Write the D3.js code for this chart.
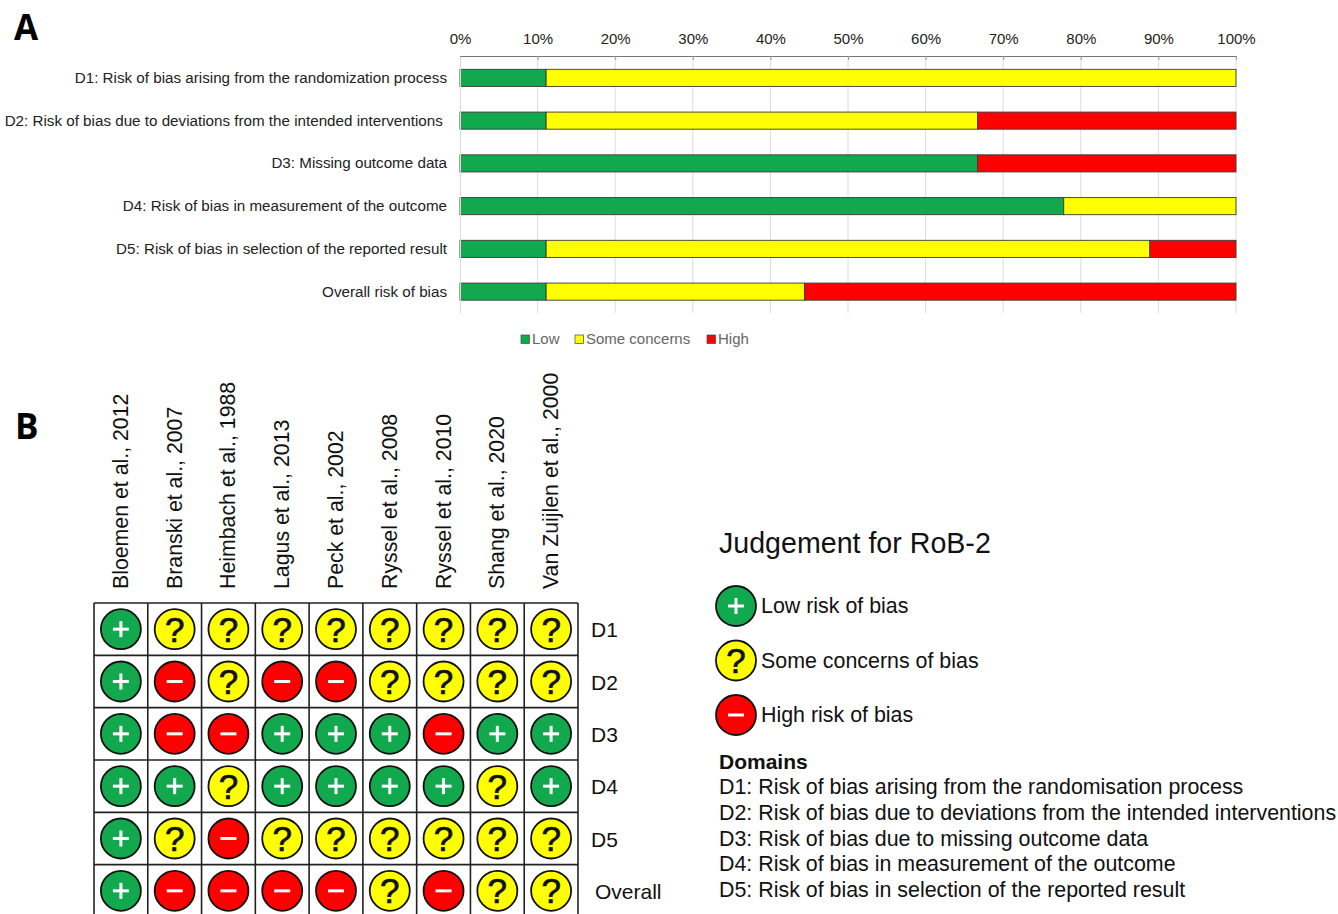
<!DOCTYPE html>
<html>
<head>
<meta charset="utf-8">
<script src="https://cdn.jsdelivr.net/npm/d3@7"></script>
<style>
  html, body { margin: 0; padding: 0; background: #fff; }
  svg { display: block; font-family: "Liberation Sans", Arial, sans-serif; }
</style>
</head>
<body>
<div id="chart"></div>
<script>
// summary bars (A), percent of studies
var domains = [
    "D1: Risk of bias arising from the randomization process",
    "D2: Risk of bias due to deviations from the intended interventions\u00a0",
    "D3: Missing outcome data",
    "D4: Risk of bias in measurement of the outcome",
    "D5: Risk of bias in selection of the reported result",
    "Overall risk of bias"
];
var lowValues = [11.1, 11.1, 66.7, 77.8, 11.1, 11.1];
var someValues = [88.9, 55.6, 0, 22.2, 77.8, 33.3];
var highValues = [0, 33.3, 33.3, 0, 11.1, 55.6];
var levels = ["Low", "Some concerns", "High"];
var percentTicks = [0, 10, 20, 30, 40, 50, 60, 70, 80, 90, 100];

// traffic light table (B)
var studies = ["Bloemen et al., 2012", "Branski et al., 2007", "Heimbach et al., 1988",
    "Lagus et al., 2013", "Peck et al., 2002", "Ryssel et al., 2008",
    "Ryssel et al., 2010", "Shang et al., 2020", "Van Zuijlen et al., 2000"];
var rowNames = ["D1", "D2", "D3", "D4", "D5", "Overall"];
var judgements = [
    ["+", "?", "?", "?", "?", "?", "?", "?", "?"],
    ["+", "-", "?", "-", "-", "?", "?", "?", "?"],
    ["+", "-", "-", "+", "+", "+", "-", "+", "+"],
    ["+", "+", "?", "+", "+", "+", "+", "?", "+"],
    ["+", "?", "-", "?", "?", "?", "?", "?", "?"],
    ["+", "-", "-", "-", "-", "?", "-", "?", "?"]
];
var legendSymbols = ["+", "?", "-"];
var legendTexts = ["Low risk of bias", "Some concerns of bias", "High risk of bias"];
var domainNotes = [
    "D1: Risk of bias arising from the randomisation process",
    "D2: Risk of bias due to deviations from the intended interventions",
    "D3: Risk of bias due to missing outcome data",
    "D4: Risk of bias in measurement of the outcome",
    "D5: Risk of bias in selection of the reported result"
];

var green = "#11a84e", yellow = "#ffff00", red = "#ff0000";
var color = d3.scaleOrdinal().domain(levels).range([green, yellow, red]);
var symbolColor = d3.scaleOrdinal().domain(["+", "?", "-"]).range([green, yellow, red]);

var svg = d3.select("#chart").append("svg")
    .attr("width", 1338)
    .attr("height", 914);

// panel letters
svg.append("text").attr("x", 14).attr("y", 40)
    .style("font-family", "'Open Sans', sans-serif").style("font-weight", 700).style("font-size", "35px")
    .text("A");
svg.append("text").attr("x", 15).attr("y", 439)
    .style("font-family", "'Open Sans', sans-serif").style("font-weight", 700).style("font-size", "35px")
    .text("B");

// ---------- A: stacked bars ----------
var x = d3.scaleLinear().domain([0, 100]).range([460, 1236]);
var y = d3.scaleBand().domain(domains).range([56.5, 313]).paddingInner(0.6).paddingOuter(0.3);

// gridlines
svg.append("g").selectAll("line")
    .data(percentTicks.slice(1))
    .enter().append("line")
    .attr("x1", function(d) { return x(d); })
    .attr("x2", function(d) { return x(d); })
    .attr("y1", 56)
    .attr("y2", 313)
    .style("stroke", "#dcdcdc");

var rows = domains.map(function(d, i) {
    return { name: d, Low: lowValues[i], "Some concerns": someValues[i], High: highValues[i] };
});
var stacked = d3.stack().keys(levels)(rows);

svg.append("g").selectAll("g")
    .data(stacked)
    .enter().append("g")
    .attr("fill", function(d) { return color(d.key); })
    .selectAll("rect")
    .data(function(d) { return d.filter(function(p) { return p[1] > p[0]; }); })
    .enter().append("rect")
    .attr("x", function(d) { return x(d[0]); })
    .attr("y", function(d) { return y(d.data.name); })
    .attr("width", function(d) { return x(d[1]) - x(d[0]); })
    .attr("height", y.bandwidth())
    .style("stroke", "#3a3a3a")
    .style("stroke-width", 0.9);

var xAxis = svg.append("g")
    .attr("transform", "translate(0,56)")
    .call(d3.axisTop(x).tickValues(percentTicks).tickSize(5).tickSizeOuter(0).tickPadding(7)
        .tickFormat(function(d) { return d + "%"; }));
xAxis.selectAll("text").style("font-size", "15px").style("font-family", "inherit").style("fill", "#222");
xAxis.selectAll("line").attr("y2", 4).style("stroke", "#999");
xAxis.select(".domain").style("stroke", "#777");

var yAxis = svg.append("g")
    .attr("transform", "translate(460,0)")
    .call(d3.axisLeft(y).tickSize(0).tickPadding(13));
yAxis.selectAll("text").style("font-size", "15.2px").style("font-family", "inherit").style("fill", "#222");
yAxis.select(".domain").style("stroke", "#d8d8d8");

// legend under the bars
var barLegend = svg.append("g").selectAll("g")
    .data(levels)
    .enter().append("g")
    .attr("transform", function(d, i) { return "translate(" + [521, 575, 707][i] + ",335)"; });
barLegend.append("rect")
    .attr("width", 8.5)
    .attr("height", 8.5)
    .attr("fill", function(d) { return color(d); })
    .style("stroke", "#444")
    .style("stroke-width", 0.7);
barLegend.append("text")
    .attr("x", 11)
    .attr("y", 9)
    .style("font-size", "15px")
    .style("fill", "#666")
    .text(function(d) { return d; });

// ---------- B: traffic light table ----------
var col = d3.scaleBand().domain(studies).range([94, 578]);
var row = d3.scaleBand().domain(rowNames).range([603, 917]);

function drawSymbol(g, r) {
    g.append("circle")
        .attr("r", r)
        .attr("fill", function(d) { return symbolColor(d.value); })
        .style("stroke", "#111")
        .style("stroke-width", 1.8);
    g.filter(function(d) { return d.value === "?"; }).append("text")
        .attr("text-anchor", "middle")
        .attr("y", 12.5)
        .style("font-size", "35px")
        .style("fill", "#111")
        .style("stroke", "#111")
        .style("stroke-width", 0.7)
        .text("?");
    // horizontal stroke for + and -
    g.filter(function(d) { return d.value !== "?"; }).append("line")
        .attr("x1", -8).attr("x2", 8)
        .style("stroke", "#fff").style("stroke-width", 3);
    g.filter(function(d) { return d.value === "+"; }).append("line")
        .attr("y1", -8).attr("y2", 8)
        .style("stroke", "#fff").style("stroke-width", 3);
}

// grid
svg.append("g").selectAll("line")
    .data(studies.map(function(d) { return col(d); }).concat([col.range()[1]]))
    .enter().append("line")
    .attr("x1", function(d) { return d; })
    .attr("x2", function(d) { return d; })
    .attr("y1", 603)
    .attr("y2", 917)
    .style("stroke", "#222")
    .style("stroke-width", 1.6);
svg.append("g").selectAll("line")
    .data(rowNames.map(function(d) { return row(d); }).concat([row.range()[1]]))
    .enter().append("line")
    .attr("x1", 94)
    .attr("x2", 578)
    .attr("y1", function(d) { return d; })
    .attr("y2", function(d) { return d; })
    .style("stroke", "#222")
    .style("stroke-width", 1.6);

var cells = [];
judgements.forEach(function(r, i) {
    r.forEach(function(v, j) {
        cells.push({ row: rowNames[i], study: studies[j], value: v });
    });
});

svg.append("g").selectAll("g")
    .data(cells)
    .enter().append("g")
    .attr("transform", function(d) {
        return "translate(" + (col(d.study) + col.bandwidth() / 2) + "," + (row(d.row) + row.bandwidth() / 2) + ")";
    })
    .call(drawSymbol, 20);

// study names, rotated
svg.append("g").selectAll("text")
    .data(studies)
    .enter().append("text")
    .attr("transform", function(d) {
        return "translate(" + (col(d) + col.bandwidth() / 2 + 7) + ",589) rotate(-90)";
    })
    .style("font-size", "21.3px")
    .style("fill", "#111")
    .text(function(d) { return d; });

// row names
svg.append("g").selectAll("text")
    .data(rowNames)
    .enter().append("text")
    .attr("x", function(d) { return d === "Overall" ? 595 : 591; })
    .attr("y", function(d) { return row(d) + row.bandwidth() / 2 + 8; })
    .style("font-size", "21px")
    .style("fill", "#111")
    .text(function(d) { return d; });

// right hand key
svg.append("text").attr("x", 719).attr("y", 553)
    .style("font-size", "28.6px").style("fill", "#111")
    .text("Judgement for RoB-2");

var keyY = d3.scalePoint().domain(legendTexts).range([606, 715]);
var key = svg.append("g").selectAll("g")
    .data(legendTexts.map(function(t, i) { return { text: t, value: legendSymbols[i] }; }))
    .enter().append("g")
    .attr("transform", function(d) { return "translate(736," + keyY(d.text) + ")"; })
    .call(drawSymbol, 20);
key.append("text")
    .attr("x", 25)
    .attr("y", 7)
    .style("font-size", "21.4px")
    .style("fill", "#111")
    .text(function(d) { return d.text; });

svg.append("text").attr("x", 719).attr("y", 769)
    .style("font-size", "21px").style("font-weight", 700).style("fill", "#111")
    .text("Domains");

var noteY = d3.scalePoint().domain(domainNotes).range([794, 897]);
svg.append("g").selectAll("text")
    .data(domainNotes)
    .enter().append("text")
    .attr("x", 719)
    .attr("y", function(d) { return noteY(d); })
    .style("font-size", "21.4px")
    .style("fill", "#111")
    .text(function(d) { return d; });
</script>
</body>
</html>
